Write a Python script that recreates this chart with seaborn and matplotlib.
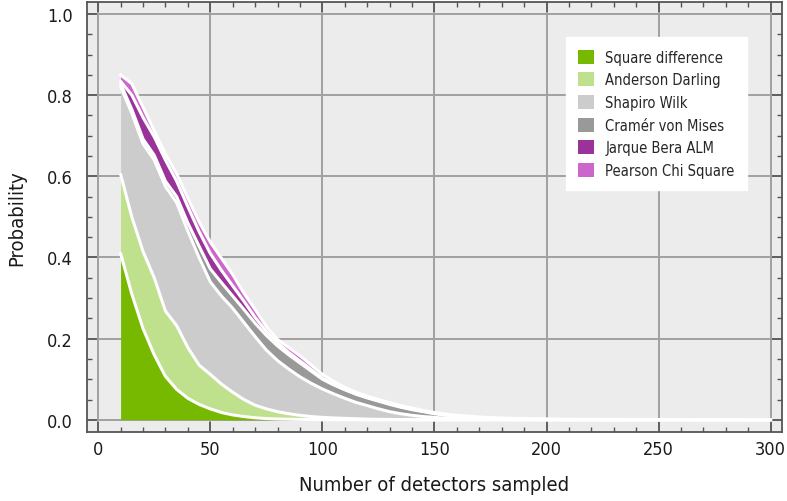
import numpy as np
import pandas as pd
import matplotlib
matplotlib.use("Agg")
import matplotlib.pyplot as plt
import seaborn as sns
from matplotlib.ticker import MultipleLocator
from matplotlib.patches import Patch

x_values = list(range(10, 301, 5))

square_difference = [
    .410, .310, .225, .160, .107, .075, .053, .038, .027, .018,
    .012, .008, .005, .003, .002, .0015, .001, .0007, .0005, .0003,
    .0002, .0001, 0, 0, 0, 0, 0, 0, 0, 0,
    0, 0, 0, 0, 0, 0, 0, 0, 0, 0,
    0, 0, 0, 0, 0, 0, 0, 0, 0, 0,
    0, 0, 0, 0, 0, 0, 0, 0, 0]
anderson_darling = [
    .195, .190, .190, .190, .161, .157, .125, .097, .085, .070,
    .056, .042, .031, .024, .018, .0135, .010, .0073, .0055, .0042,
    .0033, .0024, .0018, .0012, .0008, .0005, .0003, .0002, .0001, 0,
    0, 0, 0, 0, 0, 0, 0, 0, 0, 0,
    0, 0, 0, 0, 0, 0, 0, 0, 0, 0,
    0, 0, 0, 0, 0, 0, 0, 0, 0]
shapiro_wilk = [
    .217, .255, .265, .290, .307, .303, .287, .265, .228, .217,
    .207, .190, .169, .145, .126, .110, .095, .082, .070, .0595,
    .0495, .0405, .0332, .0258, .0192, .0145, .0107, .0078, .0059, .004,
    .003, .002, .0015, .001, .0008, .0006, .0004, .0003, .0002, .0001,
    .0001, .0001, .0001, 0, 0, 0, 0, 0, 0, 0,
    0, 0, 0, 0, 0, 0, 0, 0, 0]
cramer_von_mises = [
    .006, .010, .012, .012, .013, .015, .020, .028, .032, .033,
    .030, .032, .033, .036, .036, .035, .034, .030, .024, .022,
    .021, .020, .019, .019, .018, .016, .014, .012, .009, .007,
    .005, .004, .003, .0025, .0019, .0014, .0011, .0009, .0008, .0007,
    .0006, .0005, .0005, .0004, .0004, .0003, .0003, .0003, .0002, .0002,
    .0002, .0001, .0001, .0001, .0001, .0001, 0, 0, 0]
jarque_bera_alm = [
    .006, .035, .053, .045, .052, .038, .040, .036, .038, .030,
    .025, .020, .014, .010, .008, .006, .005, .004, .003, .002,
    .001, .001, .001, .001, .001, .001, .001, .001, .001, .001,
    .001, .001, .0005, .0005, .0003, .0003, .0003, .0002, .0001, 0,
    0, 0, 0, 0, 0, 0, 0, 0, 0, 0,
    0, 0, 0, 0, 0, 0, 0, 0, 0]
pearson_chi_square = [
    .016, .028, .025, .015, .015, .018, .021, .024, .028, .030,
    .028, .020, .020, .012, .008, .012, .013, .011, .009, .007,
    .005, .004, .003, .003, .003, .003, .003, .002, .002, .002,
    .002, .002, .002, .0015, .0015, .0014, .0012, .0011, .0009, .0008,
    .0008, .0007, .0007, .0006, .0006, .0005, .0005, .0004, .0004, .0003,
    .0003, .0003, .0002, .0002, .0002, .0001, .0001, .0001, .0001]

series_names = ["Square difference", "Anderson Darling", "Shapiro Wilk",
                "Cramér von Mises", "Jarque Bera ALM", "Pearson Chi Square"]
series_colors = ["#76b900", "#bfe08c", "#cccccc", "#999999", "#993399", "#cc66cc"]

df = pd.DataFrame({
    "x": x_values,
    series_names[0]: square_difference,
    series_names[1]: anderson_darling,
    series_names[2]: shapiro_wilk,
    series_names[3]: cramer_von_mises,
    series_names[4]: jarque_bera_alm,
    series_names[5]: pearson_chi_square,
})

sns.set_theme(style="ticks")
plt.rcParams["font.family"] = ["DejaVu Sans"]
plt.rcParams["font.stretch"] = "condensed"

fig = plt.figure(figsize=(7.87, 5.02), dpi=100)
ax = fig.add_axes([0.1105, 0.1375, 0.883, 0.857])
ax.set_facecolor("#ececec")

vals = df[series_names].to_numpy().T
ax.stackplot(df["x"], vals, colors=series_colors, linewidth=0, zorder=2)
cum = np.cumsum(vals, axis=0)
for row in cum:
    sns.lineplot(x=df["x"], y=row, color="white", linewidth=2.2, ax=ax,
                 zorder=3, estimator=None, sort=False)

ax.set_xlim(-5, 305)
ax.set_ylim(-0.03, 1.03)
ax.xaxis.set_major_locator(MultipleLocator(50))
ax.xaxis.set_minor_locator(MultipleLocator(10))
ax.yaxis.set_major_locator(MultipleLocator(0.2))
ax.yaxis.set_minor_locator(MultipleLocator(0.05))
ax.yaxis.set_major_formatter(matplotlib.ticker.FormatStrFormatter("%.1f"))
ax.grid(True, which="major", color="#a0a0a0", linewidth=1.4, zorder=1)
ax.set_axisbelow(True)

ax.tick_params(which="both", direction="in", top=True, right=True,
               colors="#555555", labelcolor="#1a1a1a", labelsize=13)
ax.tick_params(which="major", length=7, width=1.2)
ax.tick_params(which="minor", length=3.5, width=1.0)
ax.tick_params(axis="y", which="major", pad=10)
ax.tick_params(axis="x", which="major", pad=6)
for sp in ax.spines.values():
    sp.set_color("#555555")
    sp.set_linewidth(1.3)

ax.set_xlabel("Number of detectors sampled", fontsize=14.5, labelpad=12,
              color="#1a1a1a")
ax.set_ylabel("Probability", fontsize=14.5, labelpad=15, color="#1a1a1a")

handles = [Patch(facecolor=c, edgecolor="none") for c in series_colors]
leg = ax.legend(handles, series_names, loc="upper right", bbox_to_anchor=(0.95, 0.917),
                frameon=True, fancybox=False, fontsize=10.5, handlelength=1.1,
                handleheight=1.1, handletextpad=0.75, labelspacing=0.52,
                borderpad=0.85, borderaxespad=0)
leg.get_frame().set_facecolor("white")
leg.get_frame().set_edgecolor("white")
leg.get_frame().set_alpha(1)

fig.savefig("out.png", dpi=100)
